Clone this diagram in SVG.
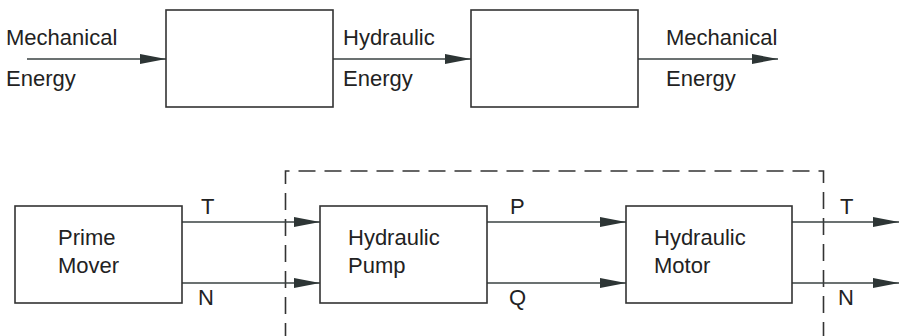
<svg xmlns="http://www.w3.org/2000/svg" width="900" height="336" viewBox="0 0 900 336">
<defs>
<style>
.box{fill:#fff;stroke:#333;stroke-width:1.6}
.ln{stroke:#3a4242;stroke-width:1.6;fill:none}
.dash{stroke:#333;stroke-width:1.6;fill:none;stroke-dasharray:17 9}
text{font-family:"Liberation Sans",Arial,sans-serif;font-size:22px;fill:#222}
</style>
<marker id="ah" markerUnits="userSpaceOnUse" markerWidth="26" markerHeight="11" refX="26" refY="5.5" orient="auto">
<path d="M0,0.5 L26,5.5 L0,10.5 Z" fill="#2d3535"/>
</marker>
</defs>
<rect width="900" height="336" fill="#fff"/>
<g id="frame">
<path class="dash" d="M285.5,340 V171 H823.5 V340"/>
</g>
<g id="connectors">
<line class="ln" x1="27" y1="59" x2="166" y2="59" marker-end="url(#ah)"/>
<line class="ln" x1="333" y1="59" x2="471" y2="59" marker-end="url(#ah)"/>
<line class="ln" x1="638" y1="59" x2="778" y2="59" marker-end="url(#ah)"/>
<line class="ln" x1="182" y1="222" x2="320" y2="222" marker-end="url(#ah)"/>
<line class="ln" x1="182" y1="283" x2="320" y2="283" marker-end="url(#ah)"/>
<line class="ln" x1="487" y1="222" x2="626" y2="222" marker-end="url(#ah)"/>
<line class="ln" x1="487" y1="283" x2="626" y2="283" marker-end="url(#ah)"/>
<line class="ln" x1="792" y1="222" x2="899" y2="222" marker-end="url(#ah)"/>
<line class="ln" x1="792" y1="283" x2="899" y2="283" marker-end="url(#ah)"/>
</g>
<g id="labels">
<text x="6" y="45">Mechanical</text>
<text x="6" y="86">Energy</text>
<text x="343" y="45">Hydraulic</text>
<text x="343" y="86">Energy</text>
<text x="666" y="45">Mechanical</text>
<text x="666" y="86">Energy</text>
<text x="201" y="214">T</text>
<text x="198" y="305">N</text>
<text x="510" y="214">P</text>
<text x="509" y="305">Q</text>
<text x="840" y="214">T</text>
<text x="838" y="305">N</text>
</g>
<g id="converter1"><rect class="box" x="166" y="10" width="167" height="97"/></g>
<g id="converter2"><rect class="box" x="471" y="10" width="167" height="97"/></g>
<g id="prime-mover">
<rect class="box" x="15" y="206" width="167" height="97"/>
<text x="58" y="245">Prime</text>
<text x="58" y="273">Mover</text>
</g>
<g id="hydraulic-pump">
<rect class="box" x="320" y="206" width="167" height="97"/>
<text x="348" y="245">Hydraulic</text>
<text x="348" y="273">Pump</text>
</g>
<g id="hydraulic-motor">
<rect class="box" x="626" y="206" width="166" height="97"/>
<text x="654" y="245">Hydraulic</text>
<text x="654" y="273">Motor</text>
</g>
</svg>
